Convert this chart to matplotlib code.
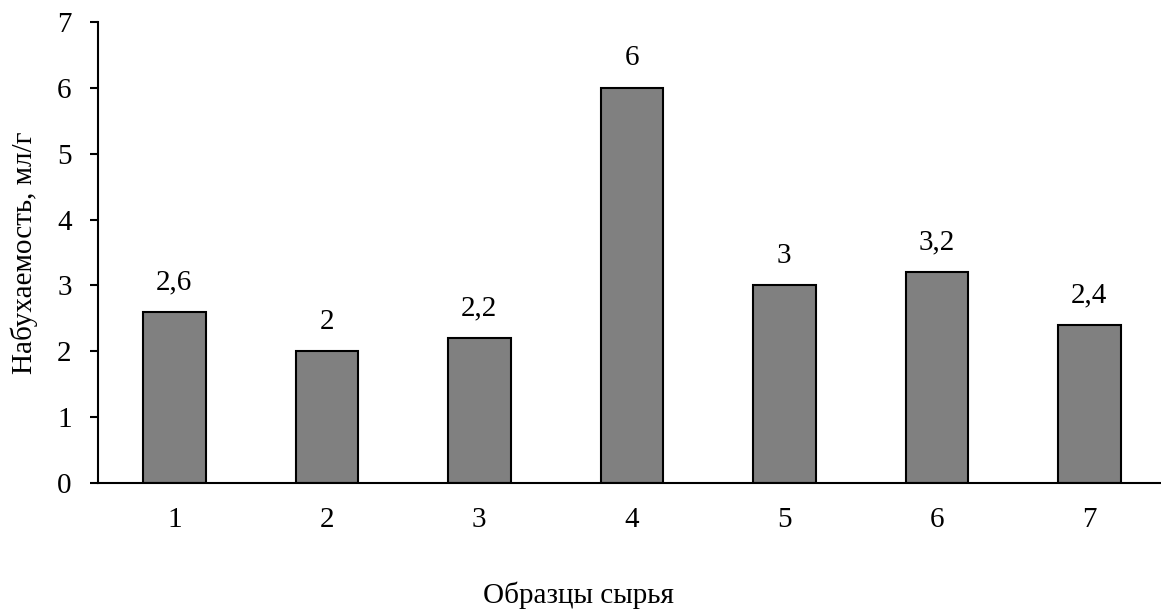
import matplotlib.pyplot as plt

plt.rcParams['font.family'] = ['Liberation Serif', 'DejaVu Serif']

samples = ['1', '2', '3', '4', '5', '6', '7']
swelling = [2.6, 2.0, 2.2, 6.0, 3.0, 3.2, 2.4]
value_labels = ['2,6', '2', '2,2', '6', '3', '3,2', '2,4']

fig = plt.figure(figsize=(11.61, 6.12), dpi=100)
ax = fig.add_axes([98 / 1161, 1 - 483 / 612, 1 - 98 / 1161, (483 - 22) / 612])

x = range(len(samples))
bars = ax.bar(x, swelling, width=0.41, color='#808080', edgecolor='black', linewidth=1.5)
for b, lab in zip(bars, value_labels):
    ax.annotate(lab, (b.get_x() + b.get_width() / 2, b.get_height()),
                xytext=(0, 12), textcoords='offset points',
                ha='center', va='bottom', fontsize=21)

ax.set_xlim(-0.5, 6.47)
ax.set_ylim(0, 7)
ax.set_yticks(range(8))
ax.set_xticks(list(x))
ax.set_xticklabels(samples)
ax.tick_params(axis='both', labelsize=21)
ax.tick_params(axis='y', direction='out', length=6, width=1.5, pad=13)
ax.tick_params(axis='x', length=0, pad=17)

for s in ['top', 'right']:
    ax.spines[s].set_visible(False)
ax.spines['left'].set_linewidth(1.5)
ax.spines['bottom'].set_linewidth(1.5)

ax.set_ylabel('Набухаемость, мл/г', fontsize=21)
ax.yaxis.set_label_coords(-60 / (1161 - 98), 0.5)
fig.text(578 / 1161, 1 - 595 / 612, 'Образцы сырья', fontsize=21, ha='center', va='center')

fig.savefig('out.png', dpi=100)
